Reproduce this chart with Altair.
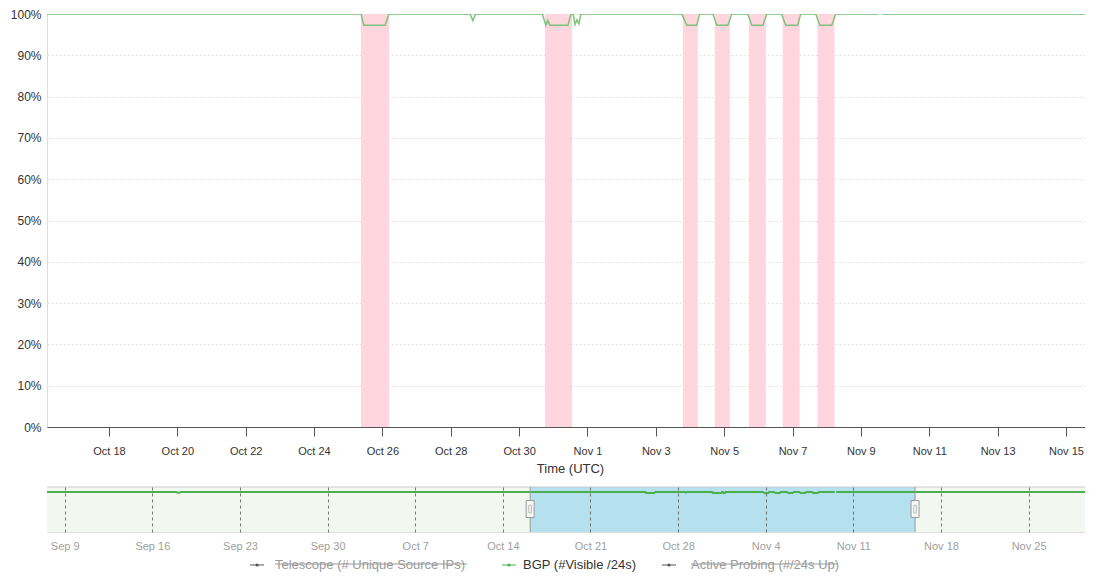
import altair as alt
import pandas as pd

FONT = "Liberation Sans"

# ---------------- data ----------------
series_names = ["Telescope (# Unique Source IPs)", "BGP (#Visible /24s)", "Active Probing (#/24s Up)"]

# BGP: percent of /24s visible (UTC); None = no data
bgp_time = [
    "2019-09-07T00:00", "2019-09-17T20:00", "2019-09-18T02:00", "2019-09-18T08:00",
    "2019-10-25T09:00", "2019-10-25T11:00", "2019-10-26T02:00", "2019-10-26T04:30",
    "2019-10-28T13:30", "2019-10-28T15:30", "2019-10-28T17:30",
    "2019-10-30T16:20", "2019-10-30T18:45", "2019-10-30T20:10", "2019-10-30T21:35",
    "2019-10-31T10:20", "2019-10-31T12:25", "2019-10-31T13:55", "2019-10-31T15:20",
    "2019-10-31T16:40", "2019-10-31T18:00", "2019-10-31T19:25",
    "2019-11-03T18:15", "2019-11-03T21:45", "2019-11-04T04:45", "2019-11-04T06:50",
    "2019-11-04T16:05", "2019-11-04T18:50", "2019-11-05T02:35", "2019-11-05T05:20",
    "2019-11-05T16:35", "2019-11-05T19:25", "2019-11-06T03:10", "2019-11-06T06:00",
    "2019-11-06T16:20", "2019-11-06T19:10", "2019-11-07T03:35", "2019-11-07T05:45",
    "2019-11-07T16:20", "2019-11-07T19:10", "2019-11-08T03:35", "2019-11-08T06:20",
    "2019-11-09T12:20", "2019-11-09T13:45", "2019-11-09T15:10",
    "2019-11-30T12:00",
]
bgp_pct = [
    100, 100, 98.0, 100,
    100, 97.3, 97.3, 100,
    100, 98.4, 100,
    100, 97.3, 98.5, 97.3,
    97.3, 100, 100, 97.5,
    98.6, 97.6, 100,
    100, 97.3, 97.3, 100,
    100, 97.3, 97.3, 100,
    100, 97.3, 97.3, 100,
    100, 97.3, 97.3, 100,
    100, 97.3, 97.3, 100,
    100, None, 100,
    100,
]

# detected outage periods (pink bands)
band_start = ["2019-10-25T09:00", "2019-10-30T18:10", "2019-11-03T19:00", "2019-11-04T17:25",
              "2019-11-05T17:20", "2019-11-06T17:07", "2019-11-07T17:30"]
band_end = ["2019-10-26T04:40", "2019-10-31T13:08", "2019-11-04T05:30", "2019-11-05T04:00",
            "2019-11-06T05:15", "2019-11-07T05:00", "2019-11-08T05:30"]

main_range = ["2019-10-16T04:30", "2019-11-15T19:00"]
main_ticks = ["2019-10-18", "2019-10-20", "2019-10-22", "2019-10-24", "2019-10-26",
              "2019-10-28", "2019-10-30", "2019-11-01", "2019-11-03", "2019-11-05",
              "2019-11-07", "2019-11-09", "2019-11-11", "2019-11-13", "2019-11-15"]
y_ticks = [0, 10, 20, 30, 40, 50, 60, 70, 80, 90, 100]

nav_range = ["2019-09-07T14:00", "2019-11-30T03:30"]
nav_selection = ["2019-10-16T04:20", "2019-11-15T22:20"]
nav_ticks = ["2019-09-09", "2019-09-16", "2019-09-23", "2019-09-30", "2019-10-07",
             "2019-10-14", "2019-10-21", "2019-10-28", "2019-11-04", "2019-11-11",
             "2019-11-18", "2019-11-25"]


def ms(s):
    return int(pd.Timestamp(s, tz="UTC").timestamp() * 1000)


# ---------------- tables ----------------
bgp = pd.DataFrame({"t": [ms(s) for s in bgp_time], "pct": bgp_pct})
bgp["seg"] = bgp["pct"].isna().cumsum()
bgp = bgp.dropna()

bands = pd.DataFrame({"s": [ms(s) for s in band_start], "e": [ms(s) for s in band_end]})
nav_bg = pd.DataFrame({"s": [ms(nav_range[0])], "e": [ms(nav_range[1])]})
sel = pd.DataFrame({"s": [ms(nav_selection[0])], "e": [ms(nav_selection[1])]})
sel_edges = pd.DataFrame({"t": [ms(s) for s in nav_selection]})

W = 1046
H_MAIN = 413
H_NAV = 45

# ---------------- main chart ----------------
main_x_scale = alt.Scale(type="utc", domain=[ms(main_range[0]), ms(main_range[1])])
main_x_axis = alt.Axis(
    values=[ms(s) for s in main_ticks],
    labelExpr="utcFormat(datum.value, '%b %-d')",
    title="Time (UTC)", grid=False,
    domainColor="#555", tickColor="#555", tickSize=9, labelPadding=9,
    labelFontSize=11, labelColor="#333", labelFont=FONT,
    titleFontSize=13, titleFontWeight="normal", titleColor="#333", titleFont=FONT, titlePadding=6,
)
main_y_axis = alt.Axis(
    values=y_ticks, labelExpr="datum.value + '%'", title=None,
    domain=False, ticks=False, labelPadding=6,
    labelFontSize=12, labelColor="#333", labelFont=FONT,
    grid=True, gridColor="#e2e2e2", gridDash=[2, 2],
)

band_layer = alt.Chart(bands).mark_rect(color="#ffd6dd").encode(
    x=alt.X("s:T", scale=main_x_scale, axis=main_x_axis),
    x2="e:T",
)
line_layer = alt.Chart(bgp).mark_line(color="#7cc47c", strokeWidth=1.5, clip=True).encode(
    x=alt.X("t:T", scale=main_x_scale, axis=main_x_axis),
    y=alt.Y("pct:Q", scale=alt.Scale(domain=[0, 100]), axis=main_y_axis),
    detail="seg:N",
)
main = alt.layer(band_layer, line_layer).properties(width=W, height=H_MAIN)

# ---------------- navigator ----------------
nav_x_scale = alt.Scale(type="utc", domain=[ms(nav_range[0]), ms(nav_range[1])])
nav_x_axis = alt.Axis(
    values=[ms(s) for s in nav_ticks],
    labelExpr="utcFormat(datum.value, '%b %-d')",
    title=None, domain=False, ticks=False, labelPadding=8,
    labelFontSize=11, labelColor="#a0a0a0", labelFont=FONT,
    grid=True, gridColor="#555", gridDash=[3, 3], gridOpacity=0.8, zindex=1,
)

nav_bg_layer = alt.Chart(nav_bg).mark_rect(color="#f2f8ef").encode(
    x=alt.X("s:T", scale=nav_x_scale, axis=nav_x_axis), x2="e:T"
)
sel_layer = alt.Chart(sel).mark_rect(color="#b5e1ef").encode(
    x=alt.X("s:T", scale=nav_x_scale), x2="e:T"
)
top_rule = alt.Chart(nav_bg).mark_rule(color="#cccccc").encode(y=alt.value(0))
nav_line = alt.Chart(bgp).mark_line(color="#4cae4c", strokeWidth=2, clip=True).encode(
    x=alt.X("t:T", scale=nav_x_scale),
    y=alt.Y("pct:Q", scale=alt.Scale(domain=[0, 112.5]), axis=None),
    detail="seg:N",
)
edge_rules = alt.Chart(sel_edges).mark_rule(color="#9a9a9a").encode(
    x=alt.X("t:T", scale=nav_x_scale)
)
handles = alt.Chart(sel_edges).mark_point(
    shape="M-0.47,-1H0.47V1H-0.47Z", size=289, filled=True,
    fill="#f7f7f7", stroke="#999", strokeWidth=1, opacity=1,
).encode(x=alt.X("t:T", scale=nav_x_scale), y=alt.value(22))
handle_grip = alt.Chart(sel_edges).mark_point(
    shape="M-0.15,-0.45H0.15V0.45H-0.15Z", size=289, filled=False,
    stroke="#bbb", strokeWidth=1, opacity=1,
).encode(x=alt.X("t:T", scale=nav_x_scale), y=alt.value(22))

# legend (custom, with struck-through hidden series)
LEG_Y = 78
leg_items = [
    # name, symbol center x, text start x, strike end x, symbol color, text color, hidden
    (series_names[0], 210, 228, 420, "#555", "#9a9a9a", True),
    (series_names[1], 462, 476, None, "#4cae4c", "#333", False),
    (series_names[2], 622, 644, 791, "#555", "#9a9a9a", True),
]
leg_layers = []
for name, sx, tx, ex, scol, tcol, hidden in leg_items:
    d = pd.DataFrame({"label": [name]})
    leg_layers.append(alt.Chart(d).mark_rule(color=scol, strokeWidth=1).encode(
        x=alt.value(sx - 7), x2=alt.value(sx + 7), y=alt.value(LEG_Y)))
    leg_layers.append(alt.Chart(d).mark_point(filled=True, color=scol, size=10, opacity=1).encode(
        x=alt.value(sx), y=alt.value(LEG_Y)))
    leg_layers.append(alt.Chart(d).mark_text(
        align="left", baseline="middle", font=FONT, fontSize=13, color=tcol).encode(
        x=alt.value(tx), y=alt.value(LEG_Y), text="label:N"))
    if hidden:
        leg_layers.append(alt.Chart(d).mark_rule(color=tcol, strokeWidth=1).encode(
            x=alt.value(tx), x2=alt.value(ex), y=alt.value(LEG_Y - 1)))

nav = alt.layer(
    nav_bg_layer, sel_layer, top_rule, nav_line, edge_rules, handles, handle_grip, *leg_layers
).properties(width=W, height=H_NAV)

chart = alt.vconcat(main, nav, spacing=60, bounds="flush").properties(
    padding={"left": 1, "top": -1, "right": -9, "bottom": 0}
).configure_view(stroke="transparent", strokeWidth=0).configure(font=FONT)

chart.save("out.html", embed_options={"renderer": "svg", "actions": False})
